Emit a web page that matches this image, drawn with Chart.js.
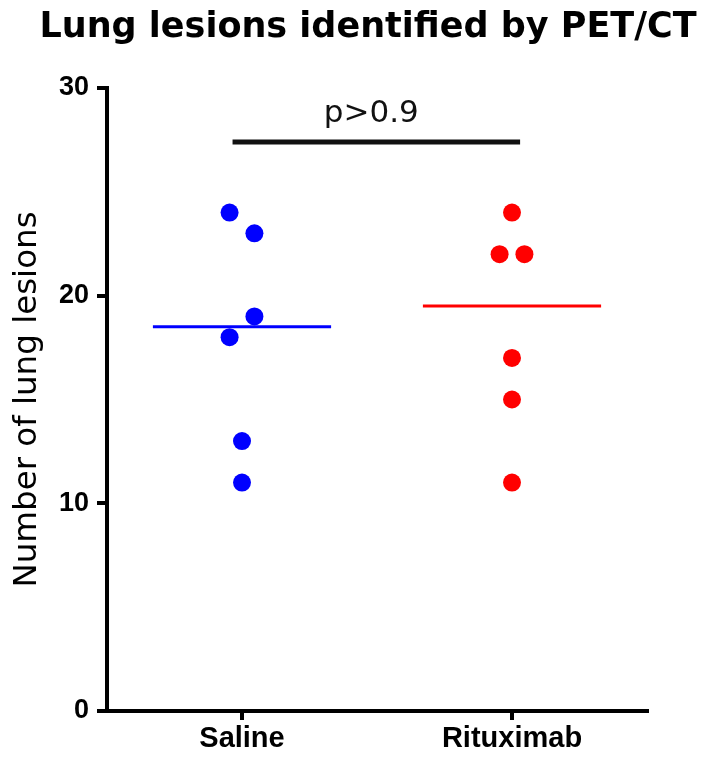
<!DOCTYPE html>
<html>
<head>
<meta charset="utf-8">
<script src="https://cdn.jsdelivr.net/npm/chart.js@4.4.1/dist/chart.umd.min.js"></script>
<style>
  html, body { margin: 0; padding: 0; background: #fff; }
  canvas { display: block; }
</style>
</head>
<body>
<canvas id="lesionChart" width="702" height="758"></canvas>
<script>
// ─── Data ─────────────────────────────────────────
const chartTitle       = 'Lung lesions identified by PET/CT';
const groups           = ['Saline', 'Rituximab'];
const salineLesions    = [24, 23, 19, 18, 13, 11];
const rituximabLesions = [24, 22, 22, 17, 15, 11];
// side of the column each dot sits on (-1 left, 0 centre, 1 right)
const salineSide       = [-1, 1, 1, -1, 0, 0];
const rituximabSide    = [0, -1, 1, 0, 0, 0];
const yTicks           = [0, 10, 20, 30];
const pValueText       = 'p>0.9';
const bracketLevel     = 27.4;
const bracketFrom      = -0.035;
const bracketTo        = 1.03;

// ─── Style ────────────────────────────────────────
const colorSaline     = '#0000FF';
const colorRituximab  = '#FF0000';
const dotSpread       = 0.046;   // in group units
const medianHalfWidth = 0.33;

// ─── Helpers ──────────────────────────────────────
function median(values) {
  const s = [...values].sort((a, b) => a - b);
  const mid = Math.floor(s.length / 2);
  return s.length % 2 ? s[mid] : (s[mid - 1] + s[mid]) / 2;
}

function dots(values, sides, groupIdx) {
  return values.map((v, i) => ({ x: groupIdx + sides[i] * dotSpread, y: v }));
}

function medianLine(values, groupIdx) {
  const m = median(values);
  return [{ x: groupIdx - medianHalfWidth, y: m }, { x: groupIdx + medianHalfWidth, y: m }];
}

function dotSet(label, data, color) {
  return {
    type: 'scatter', label, data,
    backgroundColor: color, borderColor: color,
    pointRadius: 9, pointBorderWidth: 0, pointHoverRadius: 9
  };
}

function lineSet(label, data, color, width) {
  return {
    type: 'line', label, data,
    borderColor: color, borderWidth: width,
    pointRadius: 0, fill: false, tension: 0
  };
}

// ─── Title and p-value text ───────────────────────
const textPlugin = {
  id: 'chartText',
  afterDraw(chart) {
    const { ctx, scales: { x, y } } = chart;
    ctx.save();
    ctx.textAlign = 'center';
    ctx.textBaseline = 'alphabetic';
    ctx.fillStyle = '#000';
    ctx.font = 'bold 35px "DejaVu Sans"';
    ctx.fillText(chartTitle, 368, 37);
    ctx.fillStyle = '#111';
    ctx.font = '31px "DejaVu Sans"';
    const px = x.getPixelForValue((bracketFrom + bracketTo) / 2) - 5;
    const py = y.getPixelForValue(bracketLevel) - 20;
    ctx.fillText(pValueText, px, py);
    ctx.restore();
  }
};

// ─── Chart ────────────────────────────────────────
const ctx = document.getElementById('lesionChart').getContext('2d');

new Chart(ctx, {
  data: {
    datasets: [
      lineSet('Saline median', medianLine(salineLesions, 0), colorSaline, 3),
      lineSet('Rituximab median', medianLine(rituximabLesions, 1), colorRituximab, 3),
      lineSet('Comparison', [{ x: bracketFrom, y: bracketLevel }, { x: bracketTo, y: bracketLevel }], '#111', 5),
      dotSet('Saline', dots(salineLesions, salineSide, 0), colorSaline),
      dotSet('Rituximab', dots(rituximabLesions, rituximabSide, 1), colorRituximab)
    ]
  },
  options: {
    responsive: false,
    animation: false,
    layout: { padding: { top: 88, right: 55, bottom: 0, left: 0 } },
    plugins: {
      legend: { display: false },
      tooltip: { enabled: false }
    },
    scales: {
      x: {
        type: 'linear',
        min: -0.5,
        max: 1.5,
        afterBuildTicks: scale => { scale.ticks = groups.map((_, i) => ({ value: i })); },
        afterFit: scale => { scale.height = 47; },
        ticks: {
          callback: value => groups[value],
          color: '#000',
          padding: 2,
          maxRotation: 0,
          font: { family: "'Liberation Sans', Arial, sans-serif", size: 29, weight: 'bold' }
        },
        grid: { drawOnChartArea: false, color: '#000', tickLength: 9, tickWidth: 4, lineWidth: 4 },
        border: { color: '#000', width: 4 }
      },
      y: {
        min: 0,
        max: 30,
        afterBuildTicks: scale => { scale.ticks = yTicks.map(v => ({ value: v })); },
        afterFit: scale => { scale.width = 107; },
        ticks: {
          color: '#000',
          padding: 8,
          font: { family: "'Liberation Sans', Arial, sans-serif", size: 27, weight: 'bold' }
        },
        grid: { drawOnChartArea: false, color: '#000', tickLength: 10, tickWidth: 4, lineWidth: 4 },
        border: { color: '#000', width: 4 },
        title: {
          display: true,
          text: 'Number of lung lesions',
          color: '#000',
          padding: { top: 8, bottom: 0 },
          font: { family: "'DejaVu Sans', sans-serif", size: 32.5, weight: 'normal' }
        }
      }
    }
  },
  plugins: [textPlugin]
});
</script>
</body>
</html>
